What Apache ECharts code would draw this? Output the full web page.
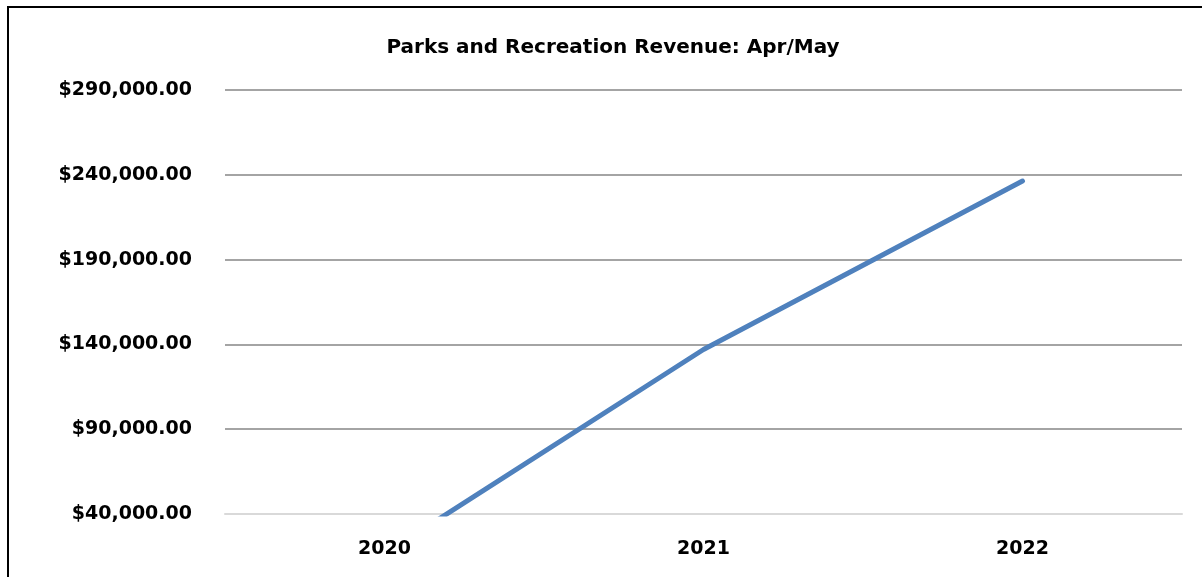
<!DOCTYPE html>
<html>
<head>
<meta charset="utf-8">
<script src="https://cdn.jsdelivr.net/npm/echarts@6/dist/echarts.min.js"></script>
<style>
html,body{margin:0;padding:0;background:#fff;}
#c{width:1202px;height:577px;}
</style>
</head>
<body>
<div id="c"></div>
<script>
const titleText = 'Parks and Recreation Revenue: Apr/May';
const years = ['2020', '2021', '2022'];
const revenue = [16500, 137000, 236300];
const yMin = 40000, yMax = 290000, yStep = 50000;

function fmt(v) {
  const s = Math.round(v).toString().replace(/\B(?=(\d{3})+(?!\d))/g, ',');
  return '$' + s + '.00';
}

const FONT = 'DejaVu Sans';
const chart = echarts.init(document.getElementById('c'));
chart.setOption({
  backgroundColor: '#fff',
  animation: false,
  title: {
    text: titleText,
    left: 608, top: 33, textAlign: 'center',
    textStyle: { fontFamily: FONT, fontWeight: 'bold', fontSize: 20, color: '#000' }
  },
  graphic: [{
    type: 'rect', silent: true, z: 100,
    shape: { x: 8, y: 7, width: 1400, height: 800 },
    style: { fill: 'none', stroke: '#000', lineWidth: 2 }
  }],
  grid: { left: 225, right: 20, top: 90, bottom: 63, containLabel: false },
  xAxis: {
    type: 'category', data: years, boundaryGap: true,
    axisLine: { lineStyle: { color: '#d9d9d9', width: 2 } },
    axisTick: { show: false },
    axisLabel: { fontFamily: FONT, fontWeight: 'bold', fontSize: 19, color: '#000', margin: 26 }
  },
  yAxis: {
    type: 'value', min: yMin, max: yMax, interval: yStep,
    axisLine: { show: false }, axisTick: { show: false },
    splitLine: { showMinLine: false, lineStyle: { color: '#868686', width: 1.5 } },
    axisLabel: { fontFamily: FONT, fontWeight: 'bold', fontSize: 19, color: '#000', margin: 33, formatter: fmt }
  },
  series: [{
    type: 'line', data: revenue, showSymbol: false, symbol: 'none', clip: true,
    lineStyle: { color: '#4f81bd', width: 5, cap: 'round', join: 'round' }
  }]
});
</script>
</body>
</html>
